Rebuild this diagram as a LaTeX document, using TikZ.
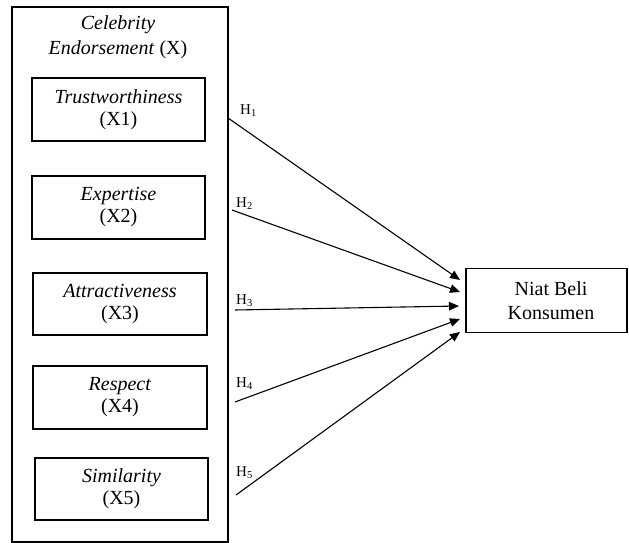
\documentclass[tikz,border=0pt]{standalone}
\usepackage{fontspec}
\setmainfont{Liberation Serif}
\usetikzlibrary{arrows.meta}
\begin{document}
\begin{tikzpicture}[x=1pt,y=-1pt,
  box/.style={draw,line width=1.2pt,inner sep=0pt},
  lbl/.style={font=\fontsize{20}{22}\selectfont,align=center},
  hyp/.style={font=\fontsize{15}{16}\selectfont,anchor=base west,inner sep=0pt},
  arr/.style={line width=1.1pt,-{Triangle[length=10pt,width=8.5pt]}}]
\useasboundingbox (0,0) rectangle (629,543);
% outer box
\node[box,minimum width=216pt,minimum height=535pt] (outer) at (120,274.5) {};
\node[lbl,font=\fontsize{20}{25}\selectfont] (title) at (118,37.5) {\textit{Celebrity}\\\textit{Endorsement} (X)};
% inner boxes
\node[box,minimum width=173pt,minimum height=63pt] (x1) at (118.5,109.5) {};
\node[lbl] at (x1) {\textit{Trustworthiness}\\(X1)};
\node[box,minimum width=173pt,minimum height=63pt] (x2) at (118.5,207.5) {};
\node[lbl] at (x2) {\textit{Expertise}\\(X2)};
\node[box,minimum width=174pt,minimum height=62pt] (x3) at (120,304) {};
\node[lbl] at (x3) {\textit{Attractiveness}\\(X3)};
\node[box,minimum width=174pt,minimum height=63pt] (x4) at (120,397.5) {};
\node[lbl] at (x4) {\textit{Respect}\\(X4)};
\node[box,minimum width=173pt,minimum height=62pt] (x5) at (121.5,489) {};
\node[lbl] at (x5) {\textit{Similarity}\\(X5)};
% target
\node[box,minimum width=161pt,minimum height=64pt] (y) at (546.5,300.5) {};
\node[lbl,font=\fontsize{20}{24}\selectfont] at (551,301) {Niat Beli\\Konsumen};
% start coordinates
\coordinate (s1) at (228,118);
\coordinate (s2) at (232,210);
\coordinate (s3) at (235,310);
\coordinate (s4) at (235,402);
\coordinate (s5) at (236,495);
\coordinate (e1) at (460,280);
\coordinate (e2) at (460,292);
\coordinate (e3) at (459,306);
\coordinate (e4) at (460,319);
\coordinate (e5) at (460,332);
\draw[arr] (s1) -- (e1);
\draw[arr] (s2) -- (e2);
\draw[arr] (s3) -- (e3);
\draw[arr] (s4) -- (e4);
\draw[arr] (s5) -- (e5);
\node[hyp] (h1) at (240,114) {H\textsubscript{1}};
\node[hyp] (h2) at (236,207) {H\textsubscript{2}};
\node[hyp] (h3) at (236,304) {H\textsubscript{3}};
\node[hyp] (h4) at (236,387) {H\textsubscript{4}};
\node[hyp] (h5) at (236,476) {H\textsubscript{5}};
\end{tikzpicture}
\end{document}
